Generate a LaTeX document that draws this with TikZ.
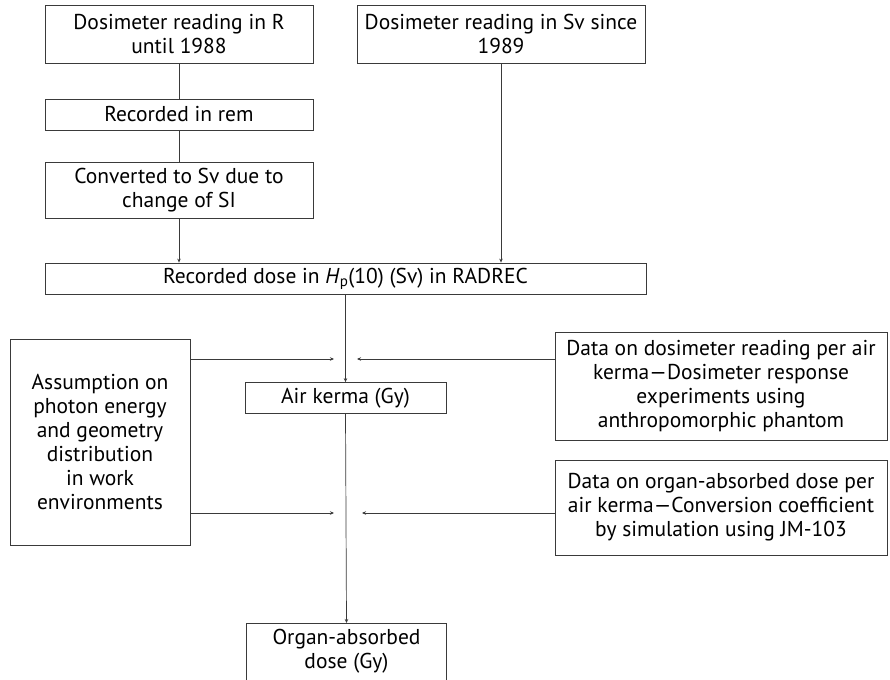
\documentclass[tikz,border=0pt]{standalone}
\usepackage{fontspec}
\setmainfont{PT Sans}
\usetikzlibrary{arrows.meta}
\definecolor{ln}{HTML}{3A3A3A}
\tikzset{
  box/.style={draw=ln, line width=0.8pt, inner sep=0pt, align=center,
    font=\fontsize{21.5}{24}\selectfont},
  openbox/.style={box, draw=none},
  edge/.style={draw=ln, line width=0.8pt},
  conn/.style={draw=ln, line width=0.7pt},
  arr/.style={conn, -{Stealth[length=4pt,width=3.5pt]}}
}
\begin{document}
\begin{tikzpicture}[x=1pt,y=-1pt]
\useasboundingbox (0,0) rectangle (890,679);
\node[box, minimum width=268pt, minimum height=58pt] (b1) at (179,34) {Dosimeter reading in R\\until 1988};
\node[box, minimum width=288pt, minimum height=58pt] (b2) at (501,34) {Dosimeter reading in Sv since\\1989};
\node[box, minimum width=268pt, minimum height=31pt] (b3) at (179,114.5) {Recorded in rem};
\node[box, minimum width=268pt, minimum height=56pt] (b4) at (179,190) {Converted to Sv due to\\change of SI};
\node[box, minimum width=601pt, minimum height=31pt] (main) at (345.5,278.5) {Recorded dose in \textit{H}\textsubscript{p}(10) (Sv) in RADREC};
\node[box, minimum width=180pt, minimum height=206pt] (left) at (100,442) {Assumption on\\photon energy\\and geometry\\distribution\\in work\\environments};
\node[box, minimum width=332pt, minimum height=108pt] (r1) at (721,386) {Data on dosimeter reading per air\\kerma---Dosimeter response\\experiments using\\anthropomorphic phantom};
\node[box, minimum width=201pt, minimum height=31pt] (air) at (345.5,398) {Air kerma (Gy)};
\node[box, minimum width=332pt, minimum height=95pt] (r2) at (721,507.5) {Data on organ-absorbed dose per\\air kerma---Conversion coefficient\\by simulation using JM-103};
\node[openbox, minimum width=199pt, minimum height=56pt, anchor=north] (organ) at (346.5,623) {Organ-absorbed\\dose (Gy)};
\draw[edge] ([yshift=-2pt]organ.south west) -- (organ.north west) -- (organ.north east) -- ([yshift=-2pt]organ.south east);
\coordinate (t1) at (334,359);
\coordinate (t2) at (357,359);
\coordinate (t3) at (334,513);
\coordinate (t4) at (362,513);
\draw[conn] (b1.south) -- (b3.north);
\draw[conn] (b3.south) -- (b4.north);
\draw[arr] (b4.south) -- (b4.south |- main.north);
\draw[arr] (b2.south) -- (b2.south |- main.north);
\draw[arr] (main.south -| air.north) -- (air.north);
\draw[arr] (air.south) -- (organ.north);
\draw[arr] (left.east |- t1) -- (t1);
\draw[arr] (r1.west |- t2) -- (t2);
\draw[arr] (left.east |- t3) -- (t3);
\draw[arr] (r2.west |- t4) -- (t4);
\end{tikzpicture}
\end{document}
